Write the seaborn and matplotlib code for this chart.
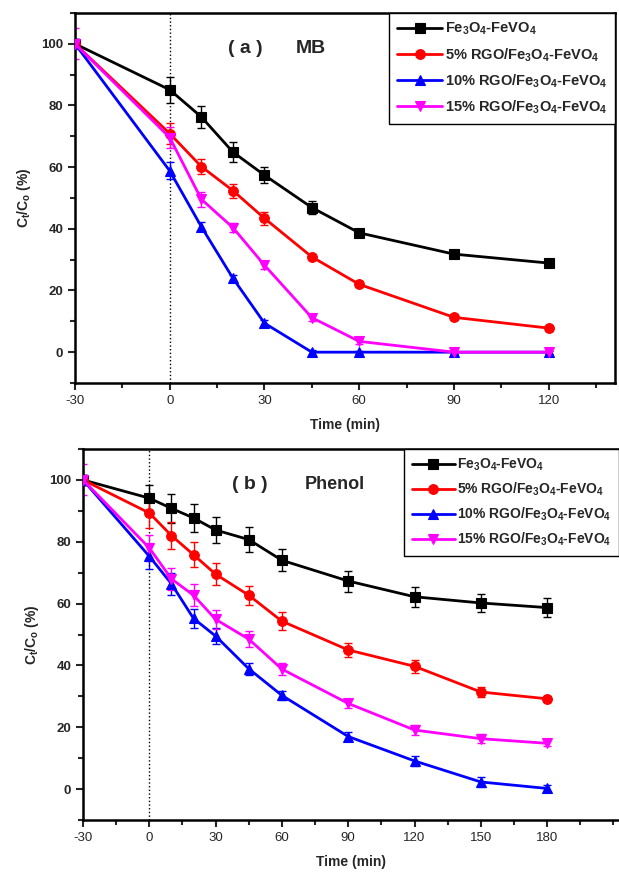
import numpy as np
import pandas as pd
import matplotlib
matplotlib.use("Agg")
import matplotlib.pyplot as plt
import seaborn as sns
from matplotlib.ticker import MultipleLocator

# ---------------- data ----------------
series_names = ["Fe$_3$O$_4$-FeVO$_4$",
                "5% RGO/Fe$_3$O$_4$-FeVO$_4$",
                "10% RGO/Fe$_3$O$_4$-FeVO$_4$",
                "15% RGO/Fe$_3$O$_4$-FeVO$_4$"]
colors = ["black", "red", "blue", "magenta"]
markers = ["s", "o", "^", "v"]

# (a) MB
time_a = [-30, 0, 10, 20, 30, 45, 60, 90, 120]
mb_0 = [100, 85.1, 76.3, 64.9, 57.4, 46.9, 38.7, 31.8, 28.9]
mb_5 = [100, 70.9, 60.2, 52.4, 43.4, 30.9, 22.0, 11.3, 7.8]
mb_10 = [100, 58.8, 40.7, 24.0, 9.4, 0, 0, 0, 0]
mb_15 = [100, 69.6, 49.6, 40.4, 28.2, 11.2, 3.5, 0, 0]
mb_err_0 = [1.5, 4.2, 3.5, 3.3, 2.5, 2.0, 1.2, 1.0, 1.0]
mb_err_5 = [1.5, 3.5, 2.5, 2.3, 2.0, 1.0, 1.0, 0.8, 0.8]
mb_err_10 = [1.5, 2.8, 1.5, 1.0, 1.0, 0.8, 0.5, 0.5, 0.5]
mb_err_15 = [5.0, 3.5, 2.5, 1.5, 1.2, 1.0, 0.8, 0.5, 0.5]

# (b) Phenol
time_b = [-30, 0, 10, 20, 30, 45, 60, 90, 120, 150, 180]
ph_0 = [100, 94.1, 90.8, 87.7, 83.8, 80.7, 74.0, 67.3, 62.2, 60.2, 58.7]
ph_5 = [100, 89.3, 82.0, 75.8, 69.5, 62.7, 54.3, 45.0, 39.7, 31.4, 29.2]
ph_10 = [100, 75.3, 66.4, 55.2, 49.5, 38.9, 30.3, 17.0, 9.1, 2.3, 0.2]
ph_15 = [100, 78.0, 68.0, 62.7, 54.9, 48.5, 38.8, 27.7, 19.1, 16.3, 14.8]
ph_err_0 = [1.5, 4.4, 4.6, 4.4, 4.3, 4.0, 3.6, 3.4, 3.2, 3.0, 3.0]
ph_err_5 = [1.5, 4.8, 4.4, 4.0, 3.6, 3.0, 3.0, 2.4, 2.2, 1.5, 1.0]
ph_err_10 = [1.5, 4.0, 3.5, 3.0, 2.5, 2.0, 1.5, 1.5, 1.5, 1.5, 1.0]
ph_err_15 = [5.0, 4.2, 3.5, 3.5, 3.0, 2.5, 2.0, 1.5, 1.5, 1.5, 1.0]

# ---------------- style ----------------
sns.set_theme(style="ticks")
plt.rcParams["font.family"] = ["Liberation Sans", "DejaVu Sans"]
plt.rcParams["mathtext.fontset"] = "custom"
plt.rcParams["mathtext.rm"] = "Liberation Sans:bold"
plt.rcParams["mathtext.it"] = "Liberation Sans:bold"
plt.rcParams["mathtext.bf"] = "Liberation Sans:bold"
plt.rcParams["mathtext.default"] = "rm"
plt.rcParams["axes.unicode_minus"] = False

W, H = 619, 872
fig = plt.figure(figsize=(W / 100, H / 100), dpi=100)

ax_a = fig.add_axes([75 / W, 1 - 383 / H, (615 - 75) / W, (383 - 13) / H])
ax_b = fig.add_axes([83 / W, 1 - 820 / H, (619 - 83) / W, (820 - 449) / H])


def draw_panel(ax, t, ys, errs, xlim, xticks, title_a, title_b, leg_fs,
               leg_spacing, show_right):
    for name, y, e, c, m in zip(series_names, ys, errs, colors, markers):
        df = pd.DataFrame({"t": t, "v": y})
        sns.lineplot(data=df, x="t", y="v", ax=ax, color=c, marker=m,
                     markersize=7, markeredgecolor=c, markeredgewidth=0.8,
                     linewidth=2, label=name, zorder=3)
        ax.errorbar(t, y, yerr=e, fmt="none", ecolor=c, elinewidth=1,
                    capsize=3, capthick=1, zorder=2)
    ax.axvline(0, color="black", linestyle=":", linewidth=1, zorder=1)
    ax.set_xlim(*xlim)
    ax.set_ylim(-10, 110)
    ax.set_xticks(xticks)
    ax.xaxis.set_minor_locator(MultipleLocator(15))
    ax.set_yticks([0, 20, 40, 60, 80, 100])
    ax.yaxis.set_minor_locator(MultipleLocator(10))
    ax.tick_params(which="major", direction="out", length=5, width=1.5,
                   labelsize=9.5, top=False, right=False)
    ax.tick_params(which="minor", direction="out", length=3.5, width=1.5,
                   top=False, right=False)
    for lab in ax.get_yticklabels():
        lab.set_fontweight("bold")
    for s in ["left", "bottom", "top", "right"]:
        ax.spines[s].set_linewidth(1.8)
        ax.spines[s].set_color("black")
    ax.spines["right"].set_visible(show_right)
    ax.set_xlabel("Time (min)", fontsize=10, fontweight="bold", labelpad=8)
    ax.set_ylabel("C$_t$/C$_o$ (%)", fontsize=10, fontweight="bold", labelpad=6)
    ax.text(title_a[0], title_a[1], title_a[2], transform=ax.transAxes,
            fontsize=14, fontweight="bold", va="center", ha="left")
    ax.text(title_b[0], title_b[1], title_b[2], transform=ax.transAxes,
            fontsize=title_b[3], fontweight="bold", va="center", ha="left")
    leg = ax.legend(loc="upper right", bbox_to_anchor=(1.0, 1.0),
                    borderaxespad=0, fancybox=False, framealpha=1,
                    edgecolor="black", handlelength=3.1, handletextpad=0.15,
                    labelspacing=leg_spacing, borderpad=0.55,
                    prop={"size": leg_fs, "weight": "bold"})
    leg.get_frame().set_linewidth(1.0)


draw_panel(ax_a, time_a, [mb_0, mb_5, mb_10, mb_15],
           [mb_err_0, mb_err_5, mb_err_10, mb_err_15],
           (-30, 141), [-30, 0, 30, 60, 90, 120],
           (0.283, 0.905, "( a )"), (0.408, 0.905, "MB", 14), 10.5, 0.6, True)

draw_panel(ax_b, time_b, [ph_0, ph_5, ph_10, ph_15],
           [ph_err_0, ph_err_5, ph_err_10, ph_err_15],
           (-30, 212.5), [-30, 0, 30, 60, 90, 120, 150, 180],
           (0.278, 0.903, "( b )"), (0.413, 0.903, "Phenol", 13), 10, 0.55, False)

fig.savefig("out.png", dpi=100)
